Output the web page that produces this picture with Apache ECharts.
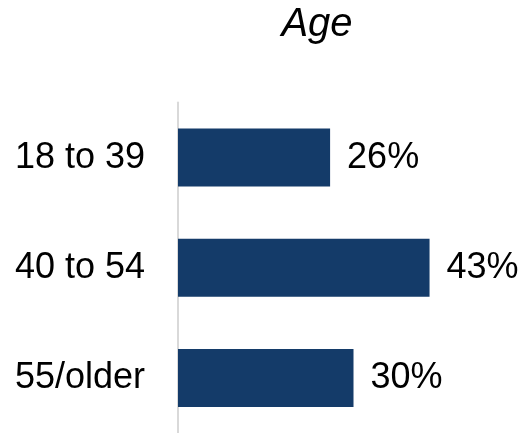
<!DOCTYPE html>
<html>
<head>
<meta charset="utf-8">
<script src="https://cdn.jsdelivr.net/npm/echarts@6/dist/echarts.min.js"></script>
<style>html,body{margin:0;padding:0;background:#fff}#c{width:525px;height:433px}</style>
</head>
<body>
<div id="c"></div>
<script>
const categories = ["18 to 39", "40 to 54", "55/older"];
const values = [26, 43, 30];
const titleText = "Age";

const chart = echarts.init(document.getElementById('c'), null, {renderer: 'canvas'});
chart.setOption({
  animation: false,
  backgroundColor: '#ffffff',
  title: {
    text: titleText,
    left: 312, top: 0,
    textAlign: 'center',
    textStyle: {fontFamily: 'Liberation Sans, Arial', fontStyle: 'italic', fontWeight: 'normal', fontSize: 40, color: '#000'}
  },
  grid: {left: 178, top: 102.5, width: 292.5, height: 333, containLabel: false},
  xAxis: {
    type: 'value', min: 0, max: 50, show: false
  },
  yAxis: {
    type: 'category', data: categories, inverse: true,
    axisLine: {show: true, lineStyle: {color: '#d9d9d9', width: 2}},
    axisTick: {show: false},
    splitLine: {show: false},
    axisLabel: {margin: 33, fontFamily: 'Liberation Sans, Arial', fontSize: 36, color: '#000'}
  },
  series: [{
    type: 'bar', data: values, barWidth: 58,
    itemStyle: {color: '#143b69'},
    label: {show: true, position: 'right', distance: 17, formatter: '{c}%',
      fontFamily: 'Liberation Sans, Arial', fontSize: 36, color: '#000'}
  }]
});
</script>
</body>
</html>
